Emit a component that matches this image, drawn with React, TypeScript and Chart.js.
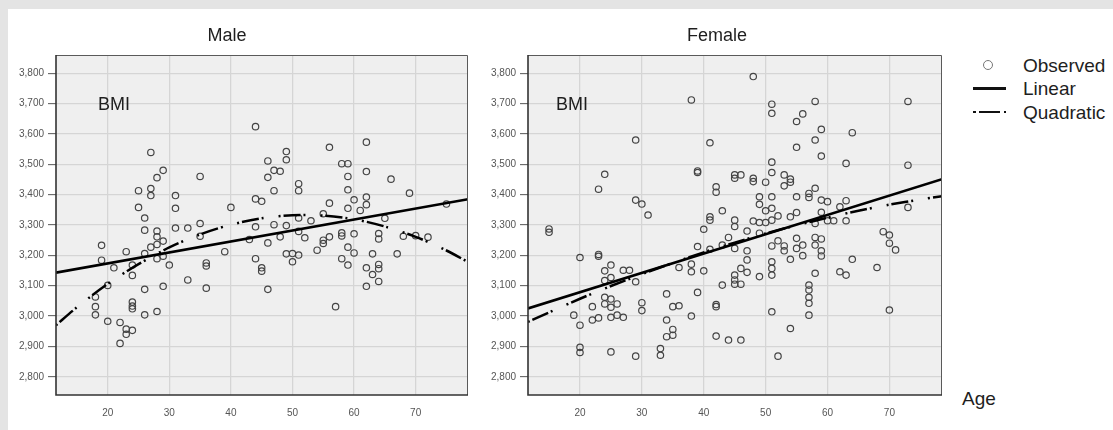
import React, { useEffect, useRef } from "react";
import { Chart, registerables } from "chart.js";

Chart.register(...registerables);

const FONT = "'Liberation Sans', Arial, Helvetica, sans-serif";

// ---- axes ----
const xTicks = [20, 30, 40, 50, 60, 70];
const yTicks = [2800, 2900, 3000, 3100, 3200, 3300, 3400, 3500, 3600, 3700, 3800];
const ageRange = [11.6, 78.5];
const bmiRange = [2740, 3860];

// ---- Male observed ----
const maleAge = [
  27, 29, 28, 25, 27, 27, 31, 25, 31, 26, 26, 31, 28, 28, 29, 19, 23, 27, 28, 26, 19, 29,
  28, 21, 30, 24, 24, 20, 26, 29, 18, 18, 18, 24, 24, 24, 26, 28, 20, 22, 23, 23, 24, 22,
  33, 44, 35, 49, 49, 46, 47, 48, 46, 51, 51, 47, 44, 45, 40, 35, 35, 44, 47, 49, 51, 51,
  52, 48, 43, 46, 39, 49, 50, 50, 51, 44, 36, 36, 45, 45, 33, 36, 46,
  62, 56, 58, 59, 62, 59, 66, 59, 69, 62, 60, 56, 59, 62, 61, 55, 53, 65, 55, 55, 56, 58,
  58, 60, 64, 64, 68, 70, 72, 54, 59, 60, 58, 59, 63, 67, 62, 64, 64, 63, 64, 62, 57, 75,
];
const maleBMI = [
  3539, 3480, 3456, 3413, 3420, 3397, 3397, 3358, 3355, 3323, 3283, 3290, 3280, 3261, 3247, 3233, 3212, 3227, 3236, 3206, 3184, 3197,
  3189, 3159, 3168, 3168, 3134, 3101, 3088, 3098, 3063, 3031, 3004, 3046, 3033, 3024, 3004, 3015, 2983, 2979, 2957, 2940, 2953, 2910,
  3290, 3624, 3460, 3542, 3515, 3511, 3480, 3477, 3457, 3436, 3413, 3413, 3386, 3378, 3358, 3305, 3263, 3294, 3301, 3298, 3323, 3279,
  3258, 3261, 3252, 3241, 3212, 3205, 3206, 3179, 3201, 3189, 3175, 3165, 3159, 3148, 3119, 3092, 3088,
  3573, 3556, 3502, 3502, 3476, 3460, 3451, 3416, 3405, 3392, 3383, 3372, 3355, 3367, 3348, 3337, 3314, 3322, 3250, 3239, 3261, 3274,
  3264, 3271, 3272, 3254, 3263, 3265, 3260, 3217, 3227, 3208, 3189, 3168, 3205, 3205, 3159, 3170, 3156, 3137, 3114, 3098, 3031, 3369,
];

// ---- Male fits ----
const maleLinearAge = [11.6, 78.5];
const maleLinearBMI = [3143, 3385];
const maleQuadAge = [11.6, 15, 20, 25, 30, 35, 40, 45, 50, 55, 60, 65, 70, 75, 78.5];
const maleQuadBMI = [2970, 3029, 3106, 3171, 3226, 3269, 3301, 3322, 3332, 3331, 3319, 3295, 3261, 3216, 3178];

// ---- Female observed ----
const femaleAge = [
  15, 15, 20, 23, 23, 23, 19, 20, 20, 20, 22, 22, 23,
  38, 29, 39, 39, 24, 29, 30, 31, 39, 25, 24, 25, 24, 27, 28, 29, 36, 38, 38, 39, 24, 24, 25, 25,
  26, 25, 26, 27, 30, 30, 34, 35, 36, 34, 38, 35, 35, 34, 25, 29, 33, 33,
  48, 51, 51, 55, 41, 55, 51, 51, 45, 46, 45, 48, 48, 50, 53, 54, 54, 53, 42, 42, 49, 49, 51, 55,
  43, 50, 51, 41, 41, 45, 45, 52, 54, 55, 40, 48, 49, 50, 51, 47, 44, 49, 41, 43, 45, 47, 47, 52,
  51, 53, 53, 55, 55, 54, 40, 46, 47, 45, 45, 45, 46, 43, 49, 51, 51, 51, 42, 42, 51, 54, 42, 44,
  46, 52,
  58, 56, 59, 64, 58, 59, 63, 73, 73, 58, 57, 57, 59, 60, 63, 62, 59, 73, 58, 60, 61, 63, 58, 59,
  56, 56, 58, 59, 59, 69, 70, 70, 71, 64, 68, 62, 63, 58, 57, 57, 57, 57, 57, 70,
];
const femaleBMI = [
  3287, 3276, 3193, 3418, 3203, 3197, 3003, 2970, 2897, 2880, 3031, 2987, 2994,
  3712, 3580, 3478, 3473, 3467, 3382, 3369, 3333, 3229, 3168, 3149, 3127, 3117, 3151, 3151, 3113, 3160, 3171, 3146, 3078, 3062, 3040, 3056, 3029,
  3040, 2996, 3003, 2996, 3044, 3018, 3073, 3031, 3034, 2987, 3000, 2956, 2937, 2932, 2882, 2868, 2893, 2871,
  3789, 3698, 3668, 3641, 3571, 3556, 3507, 3473, 3465, 3465, 3454, 3454, 3443, 3441, 3465, 3451, 3441, 3429, 3426, 3408, 3393, 3368, 3393, 3393,
  3347, 3347, 3355, 3327, 3316, 3316, 3295, 3330, 3327, 3341, 3286, 3313, 3308, 3308, 3316, 3280, 3259, 3273, 3220, 3234, 3223, 3215, 3185, 3248,
  3231, 3231, 3215, 3256, 3223, 3187, 3149, 3157, 3144, 3135, 3119, 3105, 3105, 3102, 3130, 3179, 3157, 3135, 3038, 3031, 3014, 2959, 2934, 2921,
  2921, 2868,
  3707, 3666, 3615, 3604, 3580, 3527, 3503, 3707, 3497, 3421, 3404, 3391, 3382, 3377, 3380, 3360, 3342, 3358, 3305, 3314, 3314, 3314, 3259, 3254,
  3234, 3199, 3234, 3215, 3198, 3278, 3267, 3240, 3218, 3187, 3160, 3146, 3135, 3141, 3102, 3086, 3062, 3042, 3003, 3020,
];

// ---- Female fits ----
const femaleLinearAge = [11.6, 78.5];
const femaleLinearBMI = [3025, 3451];
const femaleQuadAge = [11.6, 15, 20, 25, 30, 35, 40, 45, 50, 55, 60, 65, 70, 75, 78.5];
const femaleQuadBMI = [2981, 3012, 3057, 3099, 3138, 3175, 3210, 3242, 3272, 3299, 3324, 3347, 3367, 3384, 3395];

// ---- texts ----
const panelTitles = ["Male", "Female"];
const innerLabel = "BMI";
const xAxisName = "Age";
const legendLabels = ["Observed", "Linear", "Quadratic"];

const quadDash = [2, 3, 17, 3, 2, 15];

const framePlugin = {
  id: "plotFrame",
  beforeDraw(chart: any) {
    const { ctx, chartArea: a } = chart;
    ctx.save();
    ctx.fillStyle = "#efefef";
    ctx.fillRect(a.left, a.top, a.right - a.left, a.bottom - a.top);
    ctx.restore();
  },
  afterDraw(chart: any) {
    const { ctx, chartArea: a } = chart;
    ctx.save();
    ctx.strokeStyle = "#5a5a5a";
    ctx.lineWidth = 1;
    ctx.beginPath();
    ctx.moveTo(a.left, a.top + 0.5);
    ctx.lineTo(a.right - 0.5, a.top + 0.5);
    ctx.lineTo(a.right - 0.5, a.bottom);
    ctx.stroke();
    ctx.strokeStyle = "#333";
    ctx.lineWidth = 1.6;
    ctx.beginPath();
    ctx.moveTo(a.left, a.top);
    ctx.lineTo(a.left, a.bottom);
    ctx.lineTo(a.right, a.bottom);
    ctx.stroke();
    ctx.restore();
  },
};

type PanelProps = {
  ages: number[];
  bmi: number[];
  linAge: number[];
  linBMI: number[];
  quadAge: number[];
  quadBMI: number[];
  left: number;
  top: number;
  width: number;
  height: number;
};

function Panel(p: PanelProps) {
  const ref = useRef<HTMLCanvasElement | null>(null);
  useEffect(() => {
    if (!ref.current) return;
    const chart = new Chart(ref.current, {
      type: "scatter",
      data: {
        datasets: [
          {
            type: "line",
            label: legendLabels[1],
            data: p.linAge.map((x, i) => ({ x, y: p.linBMI[i] })),
            borderColor: "#000",
            backgroundColor: "#000",
            borderWidth: 2.6,
            pointRadius: 0,
            fill: false,
            order: 0,
          } as any,
          {
            type: "line",
            label: legendLabels[2],
            data: p.quadAge.map((x, i) => ({ x, y: p.quadBMI[i] })),
            borderColor: "#000",
            backgroundColor: "#000",
            borderWidth: 2.5,
            borderDash: quadDash,
            borderCapStyle: "butt",
            tension: 0.3,
            pointRadius: 0,
            fill: false,
            order: 1,
          } as any,
          {
            label: legendLabels[0],
            data: p.ages.map((x, i) => ({ x, y: p.bmi[i] })),
            pointStyle: "circle",
            pointRadius: 3.2,
            borderWidth: 1.2,
            borderColor: "#444",
            backgroundColor: "rgba(0,0,0,0)",
            showLine: false,
            order: 2,
          } as any,
        ],
      },
      options: {
        responsive: false,
        animation: false,
        events: [],
        layout: { padding: { top: 11, right: 10, bottom: 0, left: 0 } },
        plugins: {
          legend: { display: false },
          title: { display: false },
          tooltip: { enabled: false },
        },
        scales: {
          x: {
            type: "linear",
            min: ageRange[0],
            max: ageRange[1],
            afterBuildTicks: (s: any) => {
              s.ticks = xTicks.map((v) => ({ value: v }));
            },
            afterFit: (s: any) => {
              s.height = 35;
            },
            grid: { color: "#d5d5d5", lineWidth: 1.3, drawTicks: false },
            border: { display: false },
            ticks: {
              padding: 12,
              color: "#555",
              font: { family: FONT, size: 10 },
              maxRotation: 0,
              callback: (v: any) => String(v),
            },
          },
          y: {
            type: "linear",
            min: bmiRange[0],
            max: bmiRange[1],
            afterBuildTicks: (s: any) => {
              s.ticks = yTicks.map((v) => ({ value: v }));
            },
            afterFit: (s: any) => {
              s.width = 48;
            },
            grid: {
              color: "#d5d5d5",
              lineWidth: 1.3,
              drawTicks: true,
              tickLength: 8,
              tickColor: "#555",
              tickWidth: 1,
            },
            border: { display: false },
            ticks: {
              padding: 4,
              color: "#555",
              font: { family: FONT, size: 10 },
              callback: (v: any) => Number(v).toLocaleString("en-US"),
            },
          },
        },
      } as any,
      plugins: [framePlugin],
    });
    return () => chart.destroy();
  }, []);
  return (
    <canvas
      ref={ref}
      width={p.width}
      height={p.height}
      style={{ position: "absolute", left: p.left, top: p.top, width: p.width, height: p.height }}
    />
  );
}

function Label(props: { text: string; x: number; y: number; size: number; align?: "center" | "left" }) {
  const tx = props.align === "left" ? "0" : "-50%";
  return (
    <div
      style={{
        position: "absolute",
        left: props.x,
        top: props.y,
        transform: `translate(${tx}, -50%)`,
        fontSize: props.size,
        lineHeight: 1,
        whiteSpace: "nowrap",
        color: "#1e1e1e",
        fontFamily: FONT,
      }}
    >
      {props.text}
    </div>
  );
}

export default function App() {
  return (
    <div
      style={{
        position: "absolute",
        left: 0,
        top: 0,
        width: 1113,
        height: 430,
        background: "#e4e4e4",
        overflow: "hidden",
        fontFamily: FONT,
      }}
    >
      <div style={{ position: "absolute", left: 8, top: 9, right: 0, bottom: 0, background: "#fff" }} />
      <Panel
        ages={maleAge}
        bmi={maleBMI}
        linAge={maleLinearAge}
        linBMI={maleLinearBMI}
        quadAge={maleQuadAge}
        quadBMI={maleQuadBMI}
        left={8}
        top={44}
        width={470}
        height={386}
      />
      <Panel
        ages={femaleAge}
        bmi={femaleBMI}
        linAge={femaleLinearAge}
        linBMI={femaleLinearBMI}
        quadAge={femaleQuadAge}
        quadBMI={femaleQuadBMI}
        left={480}
        top={44}
        width={472}
        height={386}
      />
      <Label text={panelTitles[0]} x={227} y={35} size={18} />
      <Label text={panelTitles[1]} x={717} y={35} size={18} />
      <Label text={innerLabel} x={98} y={104} size={18} align="left" />
      <Label text={innerLabel} x={556} y={104} size={18} align="left" />
      <Label text={xAxisName} x={962} y={398} size={19} align="left" />

      {/* legend */}
      <div
        style={{
          position: "absolute",
          left: 982.5,
          top: 60,
          width: 10,
          height: 10,
          boxSizing: "border-box",
          border: "1.3px solid #777",
          borderRadius: "50%",
        }}
      />
      <div style={{ position: "absolute", left: 973, top: 87, width: 33, height: 3, background: "#111" }} />
      <div style={{ position: "absolute", left: 973, top: 110.5, width: 2.5, height: 2.5, background: "#111" }} />
      <div style={{ position: "absolute", left: 979, top: 110.5, width: 21, height: 2.5, background: "#111" }} />
      <div style={{ position: "absolute", left: 1003.5, top: 110.5, width: 2.5, height: 2.5, background: "#111" }} />
      <Label text={legendLabels[0]} x={1023} y={65} size={19} align="left" />
      <Label text={legendLabels[1]} x={1023} y={88} size={19} align="left" />
      <Label text={legendLabels[2]} x={1023} y={112} size={19} align="left" />
    </div>
  );
}
